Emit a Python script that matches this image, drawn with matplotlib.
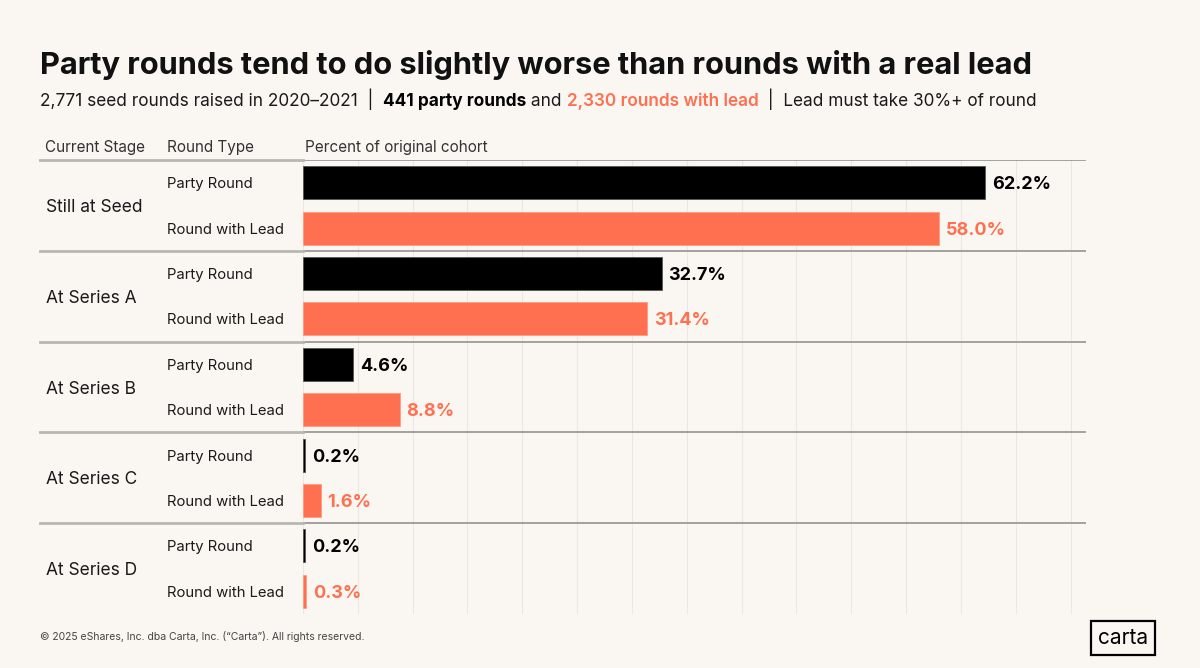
import matplotlib.pyplot as plt
import matplotlib.transforms as mtransforms
import numpy as np

plt.rcParams['font.family'] = ['Inter', 'DejaVu Sans']

stages = ["Still at Seed", "At Series A", "At Series B", "At Series C", "At Series D"]
round_types = ["Party Round", "Round with Lead"]
party_pct = [62.2, 32.7, 4.6, 0.2, 0.2]
lead_pct = [58.0, 31.4, 8.8, 1.6, 0.3]

BG = "#FAF7F2"
ORANGE = "#FF7050"
BLACK = "#000000"
TEXT = "#1a1a1a"

fig = plt.figure(figsize=(12, 6.68), dpi=100, facecolor=BG)
ax = fig.add_axes([303 / 1200, 1 - 614 / 668, (1086 - 303) / 1200, (614 - 160) / 668])
ax.set_facecolor(BG)

n = len(stages)
rows_party = np.arange(n) * 2
rows_lead = rows_party + 1

ax.barh(rows_party, party_pct, height=0.73, color=BLACK, edgecolor="#555555", linewidth=0.6, zorder=3)
ax.barh(rows_lead, lead_pct, height=0.73, color=ORANGE, edgecolor="#ff9a80", linewidth=0.6, zorder=3)

for y, v in zip(rows_party, party_pct):
    ax.annotate(f"{v:.1f}%", (v, y), xytext=(5, 0), textcoords="offset points",
                ha="left", va="center_baseline", fontsize=13, fontweight="bold", color=BLACK)
for y, v in zip(rows_lead, lead_pct):
    ax.annotate(f"{v:.1f}%", (v, y), xytext=(5, 0), textcoords="offset points",
                ha="left", va="center_baseline", fontsize=13, fontweight="bold", color=ORANGE)

ax.set_xlim(0, 71.4)
ax.set_ylim(2 * n - 0.5, -0.5)
ax.set_xticks(np.arange(0, 71, 5))
ax.grid(axis="x", color="#ebe7e1", linewidth=0.8, zorder=0)
ax.tick_params(left=False, bottom=False, labelleft=False, labelbottom=False)
for s in ax.spines.values():
    s.set_visible(False)

# separators
tr = mtransforms.blended_transform_factory(fig.transFigure, ax.transData)
for yb in [-0.5] + [2 * i - 0.5 for i in range(1, n)]:
    ax.axhline(yb, color="#9a9a9a", linewidth=1.3, zorder=4)
    ax.plot([40 / 1200, 303 / 1200], [yb, yb], transform=tr, color="#b8b6b2",
            linewidth=2, clip_on=False, zorder=4)

# left labels
for i, st in enumerate(stages):
    ax.text(46 / 1200, 2 * i + 0.5, st, transform=tr, ha="left", va="center_baseline",
            fontsize=12.5, color=TEXT)
    for j, rt in enumerate(round_types):
        ax.text(167 / 1200, 2 * i + j, rt, transform=tr, ha="left", va="center_baseline",
                fontsize=10.7, color=TEXT)

# column headers
hy = 1 - 146 / 668
fig.text(45 / 1200, hy, "Current Stage", ha="left", va="center_baseline", fontsize=11, color="#333333")
fig.text(167 / 1200, hy, "Round Type", ha="left", va="center_baseline", fontsize=11, color="#333333")
fig.text(305 / 1200, hy, "Percent of original cohort", ha="left", va="center_baseline", fontsize=11, color="#333333")

# title
fig.text(40 / 1200, 1 - 62 / 668, "Party rounds tend to do slightly worse than rounds with a real lead",
         ha="left", va="center_baseline", fontsize=22.2, fontweight="bold", color="#111111")

# subtitle in pieces
parts = [
    ("2,771 seed rounds raised in 2020\u20132021  |  ", "normal", TEXT),
    ("441 party rounds", "bold", BLACK),
    (" and ", "normal", TEXT),
    ("2,330 rounds with lead", "semibold", ORANGE),
    ("  |  Lead must take 30%+ of round", "normal", TEXT),
]
prev = fig.text(40 / 1200, 1 - 110 / 668, parts[0][0], ha="left", va="bottom",
                fontsize=12.4, fontweight=parts[0][1], color=parts[0][2])
for txt, w, c in parts[1:]:
    prev = ax.annotate(txt, xy=(1, 0), xycoords=prev, ha="left", va="bottom",
                       fontsize=12.4, fontweight=w, color=c, annotation_clip=False)

# footer
fig.text(40 / 1200, 1 - 636 / 668, "\u00a9 2025 eShares, Inc. dba Carta, Inc. (\u201cCarta\u201d). All rights reserved.",
         ha="left", va="center_baseline", fontsize=7.5, color="#444444")
fig.text(1123 / 1200, 1 - 636 / 668, "carta", ha="center", va="center_baseline", fontsize=15, color=BLACK,
         bbox=dict(boxstyle="square,pad=0.35", fc="none", ec=BLACK, lw=1.6))

fig.savefig("out.png", dpi=100, facecolor=BG)
